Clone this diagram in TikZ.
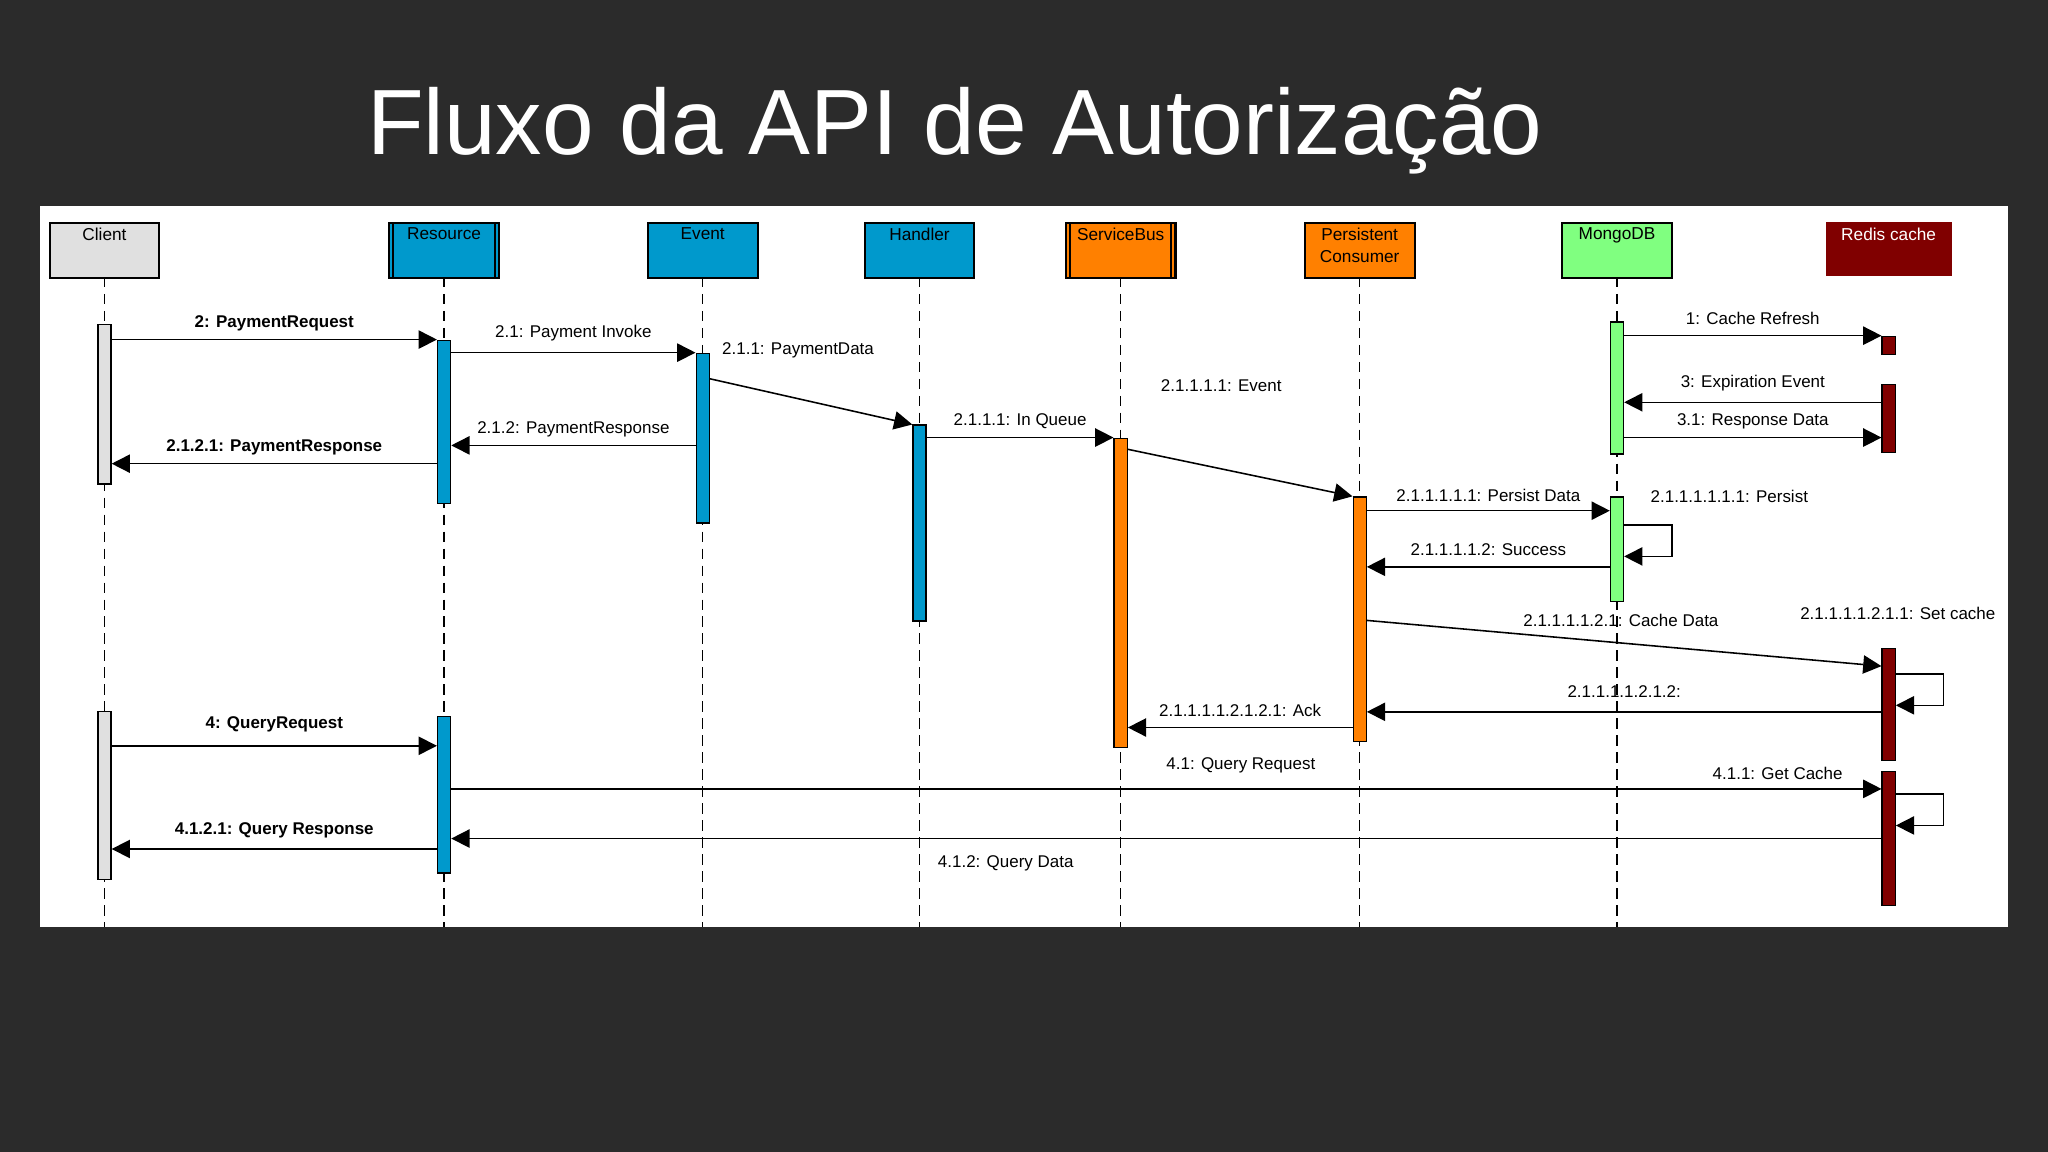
\documentclass[tikz,border=0pt]{standalone}
\usepackage{fontspec}
\setmainfont{Liberation Sans}
\usetikzlibrary{arrows.meta}
\definecolor{bg}{HTML}{2B2B2B}
\definecolor{cblue}{HTML}{0099CC}
\definecolor{corange}{HTML}{FF8000}
\definecolor{cgreen}{HTML}{80FF80}
\definecolor{cred}{HTML}{800000}
\definecolor{cgray}{HTML}{E0E0E0}
\tikzset{
  hdr/.style={draw=black,line width=0.8pt,minimum width=42pt,minimum height=21pt,anchor=north,inner sep=0pt},
  htxt/.style={anchor=north,font=\fontsize{6.6}{8.5}\selectfont,inner sep=2pt,align=center},
  life/.style={draw=black,line width=0.5pt,dash pattern=on 4pt off 2.5pt},
  act/.style={draw=black,line width=0.5pt,minimum width=5pt,anchor=north,inner sep=0pt},
  msg/.style={draw=black,line width=0.6pt,-{Triangle[length=7pt,width=7pt]}},
  lbl/.style={font=\fontsize{6.5}{8}\selectfont,inner sep=0pt},
  blbl/.style={font=\fontsize{6.5}{8}\selectfont\bfseries,inner sep=0pt},
}
\begin{document}
\begin{tikzpicture}[x=0.5pt,y=-0.5pt]
\fill[bg] (0,0) rectangle (1568,882);
\useasboundingbox (0,0) rectangle (1568,882);
\node[text=white,font=\fontsize{35.5}{38}\selectfont] (title) at (731,100) {Fluxo da API de Autorização};
\fill[white] (31,158) rectangle (1537,710);
% lifelines
\foreach \x in {80,340,538,704,858,1041,1238}{\draw[life] (\x,212) -- (\x,710);}
% headers
\node[hdr,fill=cgray] (hC) at (80,170) {};
\node[htxt] at (hC.north) {Client};
\node[hdr,fill=cblue] (hR) at (340,170) {};
\draw[line width=0.8pt] ([xshift=2pt]hR.north west) -- ([xshift=2pt]hR.south west) ([xshift=-2pt]hR.north east) -- ([xshift=-2pt]hR.south east);
\node[htxt] at (hR.north) {Resource};
\node[hdr,fill=cblue] (hE) at (538,170) {};
\node[htxt] at (hE.north) {Event};
\node[hdr,fill=cblue] (hH) at (704,170) {};
\node[htxt] at (hH.north) {Handler};
\node[hdr,fill=corange] (hS) at (858,170) {};
\draw[line width=0.8pt] ([xshift=2pt]hS.north west) -- ([xshift=2pt]hS.south west) ([xshift=-2pt]hS.north east) -- ([xshift=-2pt]hS.south east);
\node[htxt] at (hS.north) {ServiceBus};
\node[hdr,fill=corange] (hP) at (1041,170) {};
\node[htxt] at (hP.north) {Persistent\\Consumer};
\node[hdr,fill=cgreen] (hM) at (1238,170) {};
\node[htxt] at (hM.north) {MongoDB};
\node[hdr,fill=cred,draw=cred,minimum width=47.5pt,minimum height=20pt] (hX) at (1446,170) {};
\node[htxt,text=white] at (hX.north) {Redis cache};
% activations
\node[act,fill=cgray,minimum height=61pt] (c1) at (80,248) {};
\node[act,fill=cgray,minimum height=64.5pt] (c2) at (80,544) {};
\node[act,fill=cblue,minimum height=62.5pt] (r1) at (340,260) {};
\node[act,fill=cblue,minimum height=60pt] (r2) at (340,548) {};
\node[act,fill=cblue,minimum height=65pt] (e1) at (538,270) {};
\node[act,fill=cblue,minimum height=75pt] (h1) at (704,325) {};
\node[act,fill=corange,minimum height=118.5pt] (s1) at (858,335) {};
\node[act,fill=corange,minimum height=93.5pt] (p1) at (1041,380) {};
\node[act,fill=cgreen,minimum height=50.5pt] (m1) at (1238,246) {};
\node[act,fill=cgreen,minimum height=40pt] (m2) at (1238,380) {};
\node[act,fill=cred,minimum height=7pt] (x1) at (1446,257) {};
\node[act,fill=cred,minimum height=26pt] (x2) at (1446,294) {};
\node[act,fill=cred,minimum height=43pt] (x3) at (1446,496) {};
\node[act,fill=cred,minimum height=51.5pt] (x4) at (1446,590) {};
% messages
\draw[msg] (c1.east|-0,260) -- node[blbl,above=3pt] {2: PaymentRequest} (r1.west|-0,260);
\draw[msg] (r1.east|-0,270) -- node[lbl,above=4pt] {2.1: Payment Invoke} (e1.west|-0,270);
\node[lbl] at (611,268) {2.1.1: PaymentData};
\draw[msg] (e1.east|-0,290) -- (h1.west|-0,325);
\draw[msg] (h1.east|-0,335) -- node[lbl,above=3pt] {2.1.1.1: In Queue} (s1.west|-0,335);
\node[lbl] at (935,295) {2.1.1.1.1: Event};
\draw[msg] (s1.east|-0,344) -- (p1.west|-0,380);
\draw[msg] (e1.west|-0,341) -- node[lbl,above=3pt] {2.1.2: PaymentResponse} (r1.east|-0,341);
\draw[msg] (r1.west|-0,355) -- node[blbl,above=3pt] {2.1.2.1: PaymentResponse} (c1.east|-0,355);
\draw[msg] (m1.east|-0,257) -- node[lbl,above=4pt] {1: Cache Refresh} (x1.west|-0,257);
\draw[msg] (x2.west|-0,308) -- node[lbl,above=4pt] {3: Expiration Event} (m1.east|-0,308);
\draw[msg] (m1.east|-0,335) -- node[lbl,above=3pt] {3.1: Response Data} (x2.west|-0,335);
\draw[msg] (p1.east|-0,391) -- node[lbl,above=3pt] {2.1.1.1.1.1: Persist Data} (m2.west|-0,391);
\node[lbl] at (1324,380) {2.1.1.1.1.1.1: Persist};
\coordinate (ml1) at (1280,402); \coordinate (ml2) at (1280,426);
\draw[msg] (m2.east|-ml1) -- (ml1) -- (ml2) -- (m2.east|-ml2);
\draw[msg] (m2.west|-0,434) -- node[lbl,above=4pt] {2.1.1.1.1.2: Success} (p1.east|-0,434);
\node[lbl] at (1241,475) {2.1.1.1.1.2.1: Cache Data};
\draw[msg] (p1.east|-0,475) -- (x3.west|-0,510);
\node[lbl] at (1453,470) {2.1.1.1.1.2.1.1: Set cache};
\coordinate (xl1) at (1488,516); \coordinate (xl2) at (1488,540);
\draw[msg] (x3.east|-xl1) -- (xl1) -- (xl2) -- (x3.east|-xl2);
\draw[msg] (x3.west|-0,545) -- node[lbl,above=5pt] {2.1.1.1.1.2.1.2:} (p1.east|-0,545);
\draw[msg] (p1.west|-0,557) -- node[lbl,above=4pt] {2.1.1.1.1.2.1.2.1: Ack} (s1.east|-0,557);
\draw[msg] (c2.east|-0,571) -- node[blbl,above=5pt] {4: QueryRequest} (r2.west|-0,571);
\draw[msg] (r2.east|-0,604) -- (x4.west|-0,604);
\node[lbl] at (950,586) {4.1: Query Request};
\node[lbl] at (1361,592) {4.1.1: Get Cache};
\coordinate (xl3) at (1488,608); \coordinate (xl4) at (1488,632);
\draw[msg] (x4.east|-xl3) -- (xl3) -- (xl4) -- (x4.east|-xl4);
\draw[msg] (x4.west|-0,642) -- (r2.east|-0,642);
\node[lbl] at (770,661) {4.1.2: Query Data};
\draw[msg] (r2.west|-0,650) -- node[blbl,above=4pt] {4.1.2.1: Query Response} (c2.east|-0,650);
\end{tikzpicture}
\end{document}
